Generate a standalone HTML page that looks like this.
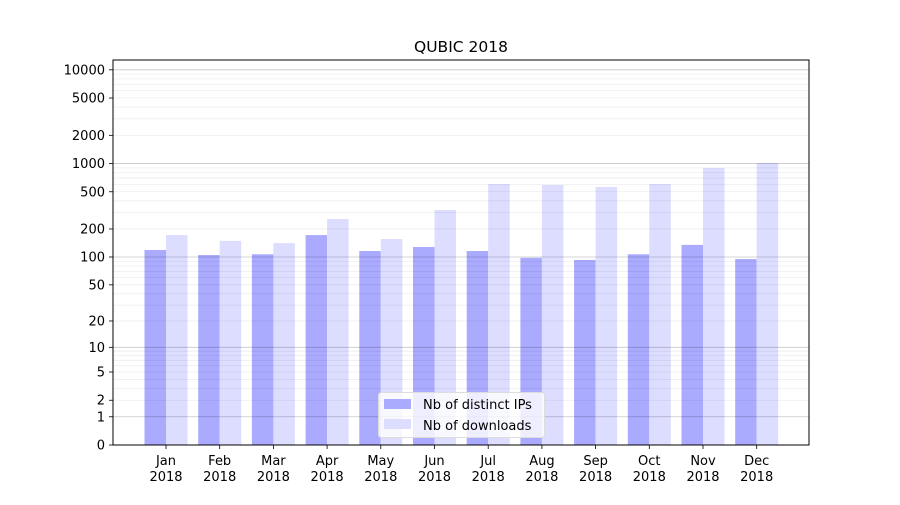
<!DOCTYPE html>
<html><head><meta charset="utf-8"><style>
body{margin:0;background:#fff;font-family:"Liberation Sans","DejaVu Sans",sans-serif;}
svg text{font-family:"DejaVu Sans","Liberation Sans",sans-serif;}
</style></head><body>
<svg id="c" width="900" height="500" xmlns="http://www.w3.org/2000/svg"></svg>
<script>
const months = ["Jan","Feb","Mar","Apr","May","Jun","Jul","Aug","Sep","Oct","Nov","Dec"];
const distinctIPs = [119,105,107,172,116,128,116,98,93,107,135,95];
const downloads = [172,149,141,256,156,319,605,590,562,605,897,1014];
const yTicks = [0,1,2,5,10,20,50,100,200,500,1000,2000,5000,10000];
const yMajor = [1,10,100,1000,10000];

const svg = document.getElementById('c');
const NS = "http://www.w3.org/2000/svg";
const L=113, R=809, T=60, B=445, unit=93.8;
function y(v){ return B - Math.log10(v+1)*unit; }
const x0=166;
function xc(i){ return x0 + i*53.7; }
function el(tag, attrs){ const e=document.createElementNS(NS,tag); for(const k in attrs) e.setAttribute(k,attrs[k]); svg.appendChild(e); return e; }

const bw=21.5;
months.forEach((m,i)=>{
  const a=el('rect',{x:xc(i)-bw,y:y(distinctIPs[i]),width:bw,height:B-y(distinctIPs[i]),fill:'#aaaaff'});
  
  
  const b=el('rect',{x:xc(i),y:y(downloads[i]),width:bw,height:B-y(downloads[i]),fill:'#ddddff'});
  
  
  el('line',{x1:xc(i),x2:xc(i),y1:B,y2:B+4,stroke:'#000','stroke-width':0.8});
  const t=el('text',{x:xc(i),y:B+20,'text-anchor':'middle','font-size':13});
  
  
  t.innerHTML='<tspan x="'+xc(i)+'">'+m+'</tspan><tspan x="'+xc(i)+'" dy="16">2018</tspan>';
});

// grid on top (semi-transparent)
const minor=[];
for(let d=1; d<=10000; d*=10) for(let m=1;m<10;m++){ const v=d*m; if(y(v)>T) minor.push(v); }
minor.forEach(v=>{ if(yMajor.includes(v)) return;
  const g=el('line',{x1:L,x2:R,y1:y(v),y2:y(v),stroke:'rgba(0,0,0,0.07)','stroke-width':0.8});
  
  
});
yMajor.forEach(v=>{
  const g=el('line',{x1:L,x2:R,y1:y(v),y2:y(v),stroke:'rgba(0,0,0,0.22)','stroke-width':0.8});
  
  
});

yTicks.forEach(v=>{
  el('line',{x1:L-4,x2:L,y1:y(v),y2:y(v),stroke:'#000','stroke-width':0.8});
  const t=el('text',{x:L-8,y:y(v)+4.5,'text-anchor':'end','font-size':13});
  
  
  t.textContent=v;
});

const ax=el('rect',{x:L,y:T,width:R-L,height:B-T,fill:'none',stroke:'#000','stroke-width':1});



const title=el('text',{x:461,y:52,'text-anchor':'middle','font-size':15.5});


title.textContent='QUBIC 2018';

// legend
const lg=el('rect',{x:378.5,y:392.5,width:166,height:45,rx:3,fill:'rgba(255,255,255,0.8)',stroke:'#ddd'});


const p1=el('rect',{x:384,y:399,width:27,height:10,fill:'#aaaaff'});


const t1=el('text',{x:423,y:409,'font-size':13});


t1.textContent='Nb of distinct IPs';
const p2=el('rect',{x:384,y:419,width:27,height:10,fill:'#ddddff'});


const t2=el('text',{x:423,y:430,'font-size':13});


t2.textContent='Nb of downloads';
</script>
</body></html>
